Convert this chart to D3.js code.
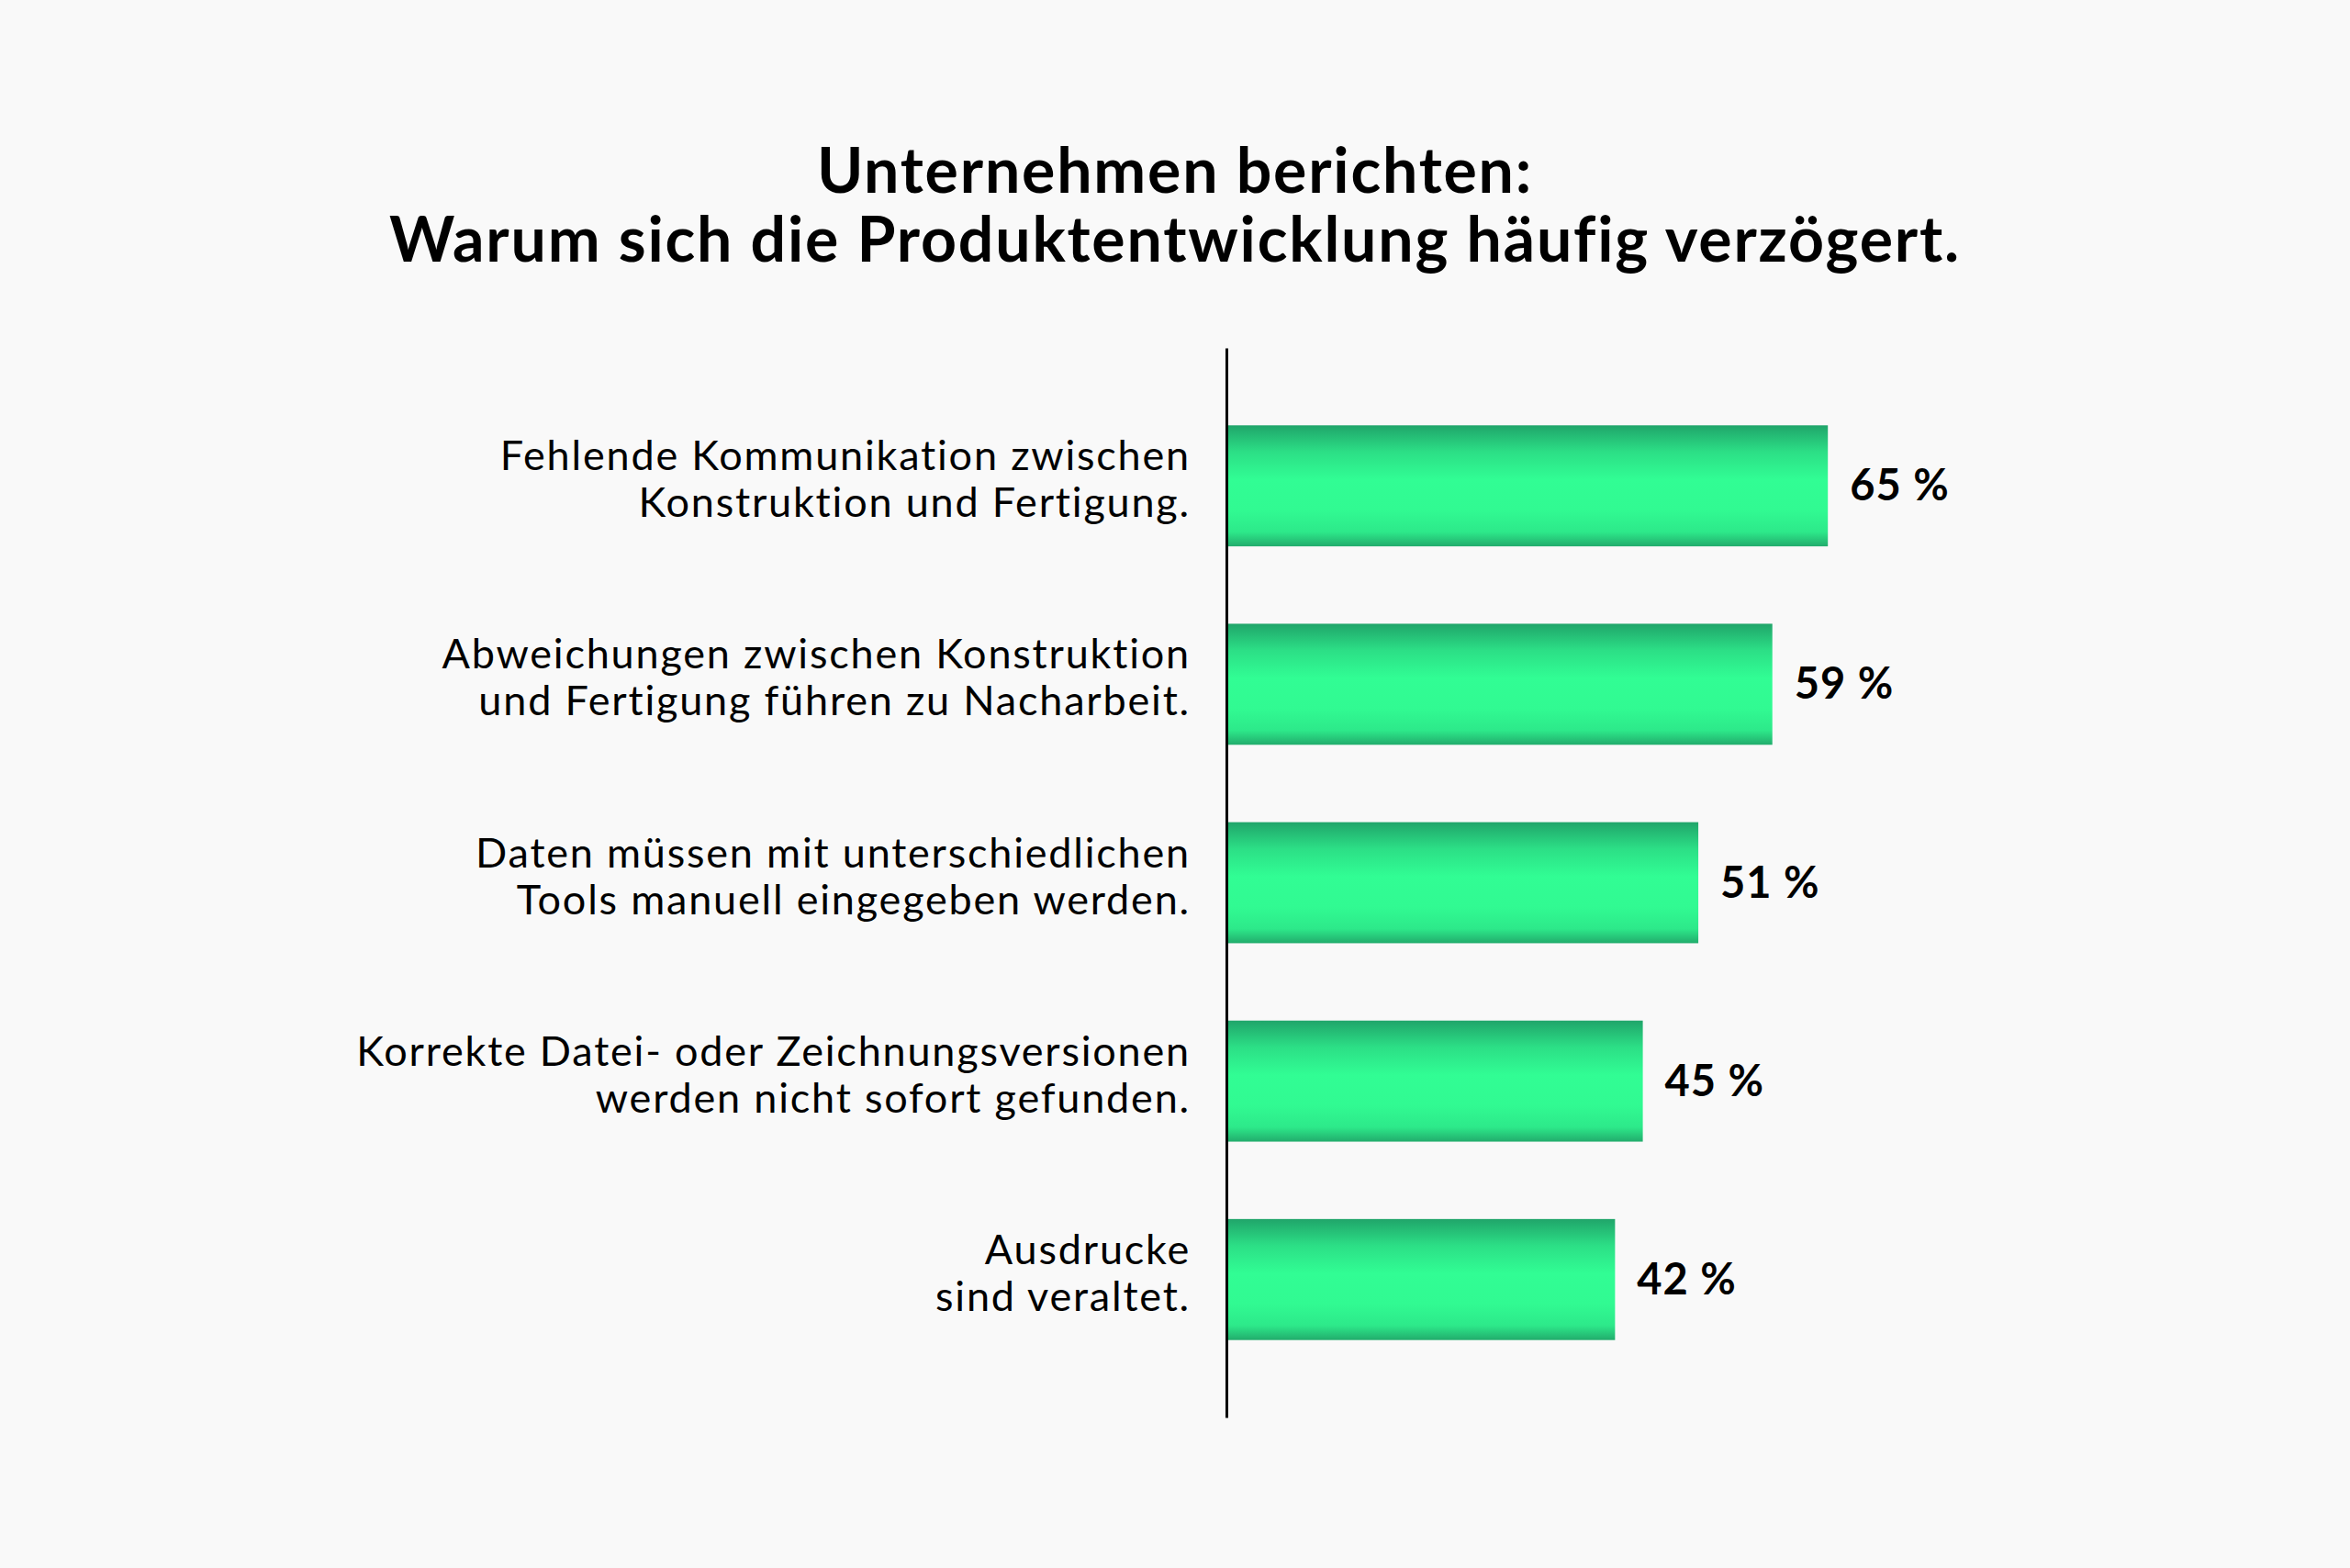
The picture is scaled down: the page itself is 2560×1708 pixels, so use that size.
<!DOCTYPE html>
<html>
<head>
<meta charset="utf-8">
<script src="https://cdn.jsdelivr.net/npm/d3@7"></script>
<style>
  html, body { margin: 0; padding: 0; background: #f9f9f9; }
  svg { display: block; }
  text { font-variant-ligatures: none; font-feature-settings: "liga" 0; }
</style>
</head>
<body>
<div id="viz"></div>
<script>
// Daten
var titleLines = ["Unternehmen berichten:", "Warum sich die Produktentwicklung häufig verzögert."];
var categories = [
    ["Fehlende Kommunikation zwischen", "Konstruktion und Fertigung."],
    ["Abweichungen zwischen Konstruktion", "und Fertigung führen zu Nacharbeit."],
    ["Daten müssen mit unterschiedlichen", "Tools manuell eingegeben werden."],
    ["Korrekte Datei- oder Zeichnungsversionen", "werden nicht sofort gefunden."],
    ["Ausdrucke", "sind veraltet."]
];
var values = [65, 59, 51, 45, 42];

var width = 2560, height = 1708;

var svg = d3.select("#viz").append("svg")
    .attr("width", width)
    .attr("height", height);

svg.append("rect")
    .attr("width", width)
    .attr("height", height)
    .attr("fill", "#f9f9f9");

// Verlauf der Balken
var grad = svg.append("defs").append("linearGradient")
    .attr("id", "barGrad")
    .attr("x1", 0).attr("y1", 0).attr("x2", 0).attr("y2", 1);
[[0, "#20a56a"], [0.22, "#2cdf86"], [0.45, "#31fd94"], [0.7, "#31fa92"], [0.88, "#2de98a"], [1, "#22ac6c"]]
    .forEach(function(s) {
        grad.append("stop").attr("offset", s[0]).attr("stop-color", s[1]);
    });

var x = d3.scaleLinear()
    .domain([0, 100])
    .range([1336, 2344]);

var y = d3.scaleBand()
    .domain(d3.range(values.length))
    .range([379, 1544])
    .padding(0.39);

// Titel
svg.append("g").selectAll("text")
    .data(titleLines)
    .enter()
    .append("text")
    .attr("x", width / 2)
    .attr("y", function(d, i) { return 210 + i * 75; })
    .attr("text-anchor", "middle")
    .attr("font-family", "Lato, sans-serif")
    .attr("font-weight", 700)
    .attr("font-size", "68px")
    .attr("letter-spacing", "1.8px")
    .attr("fill", "#000")
    .text(function(d) { return d; });

// Balken
svg.append("g").selectAll("rect")
    .data(values)
    .enter()
    .append("rect")
    .attr("x", x(0))
    .attr("y", function(d, i) { return y(i); })
    .attr("width", function(d) { return x(d) - x(0); })
    .attr("height", y.bandwidth())
    .attr("fill", "url(#barGrad)");

// Werte
svg.append("g").selectAll("text")
    .data(values)
    .enter()
    .append("text")
    .attr("x", function(d) { return x(d) + 24; })
    .attr("y", function(d, i) { return y(i) + y.bandwidth() / 2 + 16; })
    .attr("font-family", "Lato, sans-serif")
    .attr("font-weight", 700)
    .attr("font-size", "47px")
    .attr("letter-spacing", "1px")
    .attr("fill", "#000")
    .text(function(d) { return d + " %"; });

// Beschriftungen
var labels = svg.append("g").selectAll("text")
    .data(categories)
    .enter()
    .append("text")
    .attr("text-anchor", "end")
    .attr("font-family", "Lato, sans-serif")
    .attr("font-weight", 400)
    .attr("font-size", "45px")
    .attr("letter-spacing", "1.8px")
    .attr("fill", "#000");

labels.selectAll("tspan")
    .data(function(d, i) { return d.map(function(t) { return {t: t, i: i}; }); })
    .enter()
    .append("tspan")
    .attr("x", 1297)
    .attr("y", function(d, j) { return y(d.i) + y.bandwidth() / 2 - 17 + j * 51; })
    .text(function(d) { return d.t; });

// Achse
svg.append("g")
    .attr("transform", "translate(" + x(0) + ",0)")
    .call(d3.axisLeft(y).tickSize(0).tickFormat(""))
    .call(function(g) {
        g.select(".domain").attr("stroke", "#000").attr("stroke-width", 3);
    });
</script>
</body>
</html>
